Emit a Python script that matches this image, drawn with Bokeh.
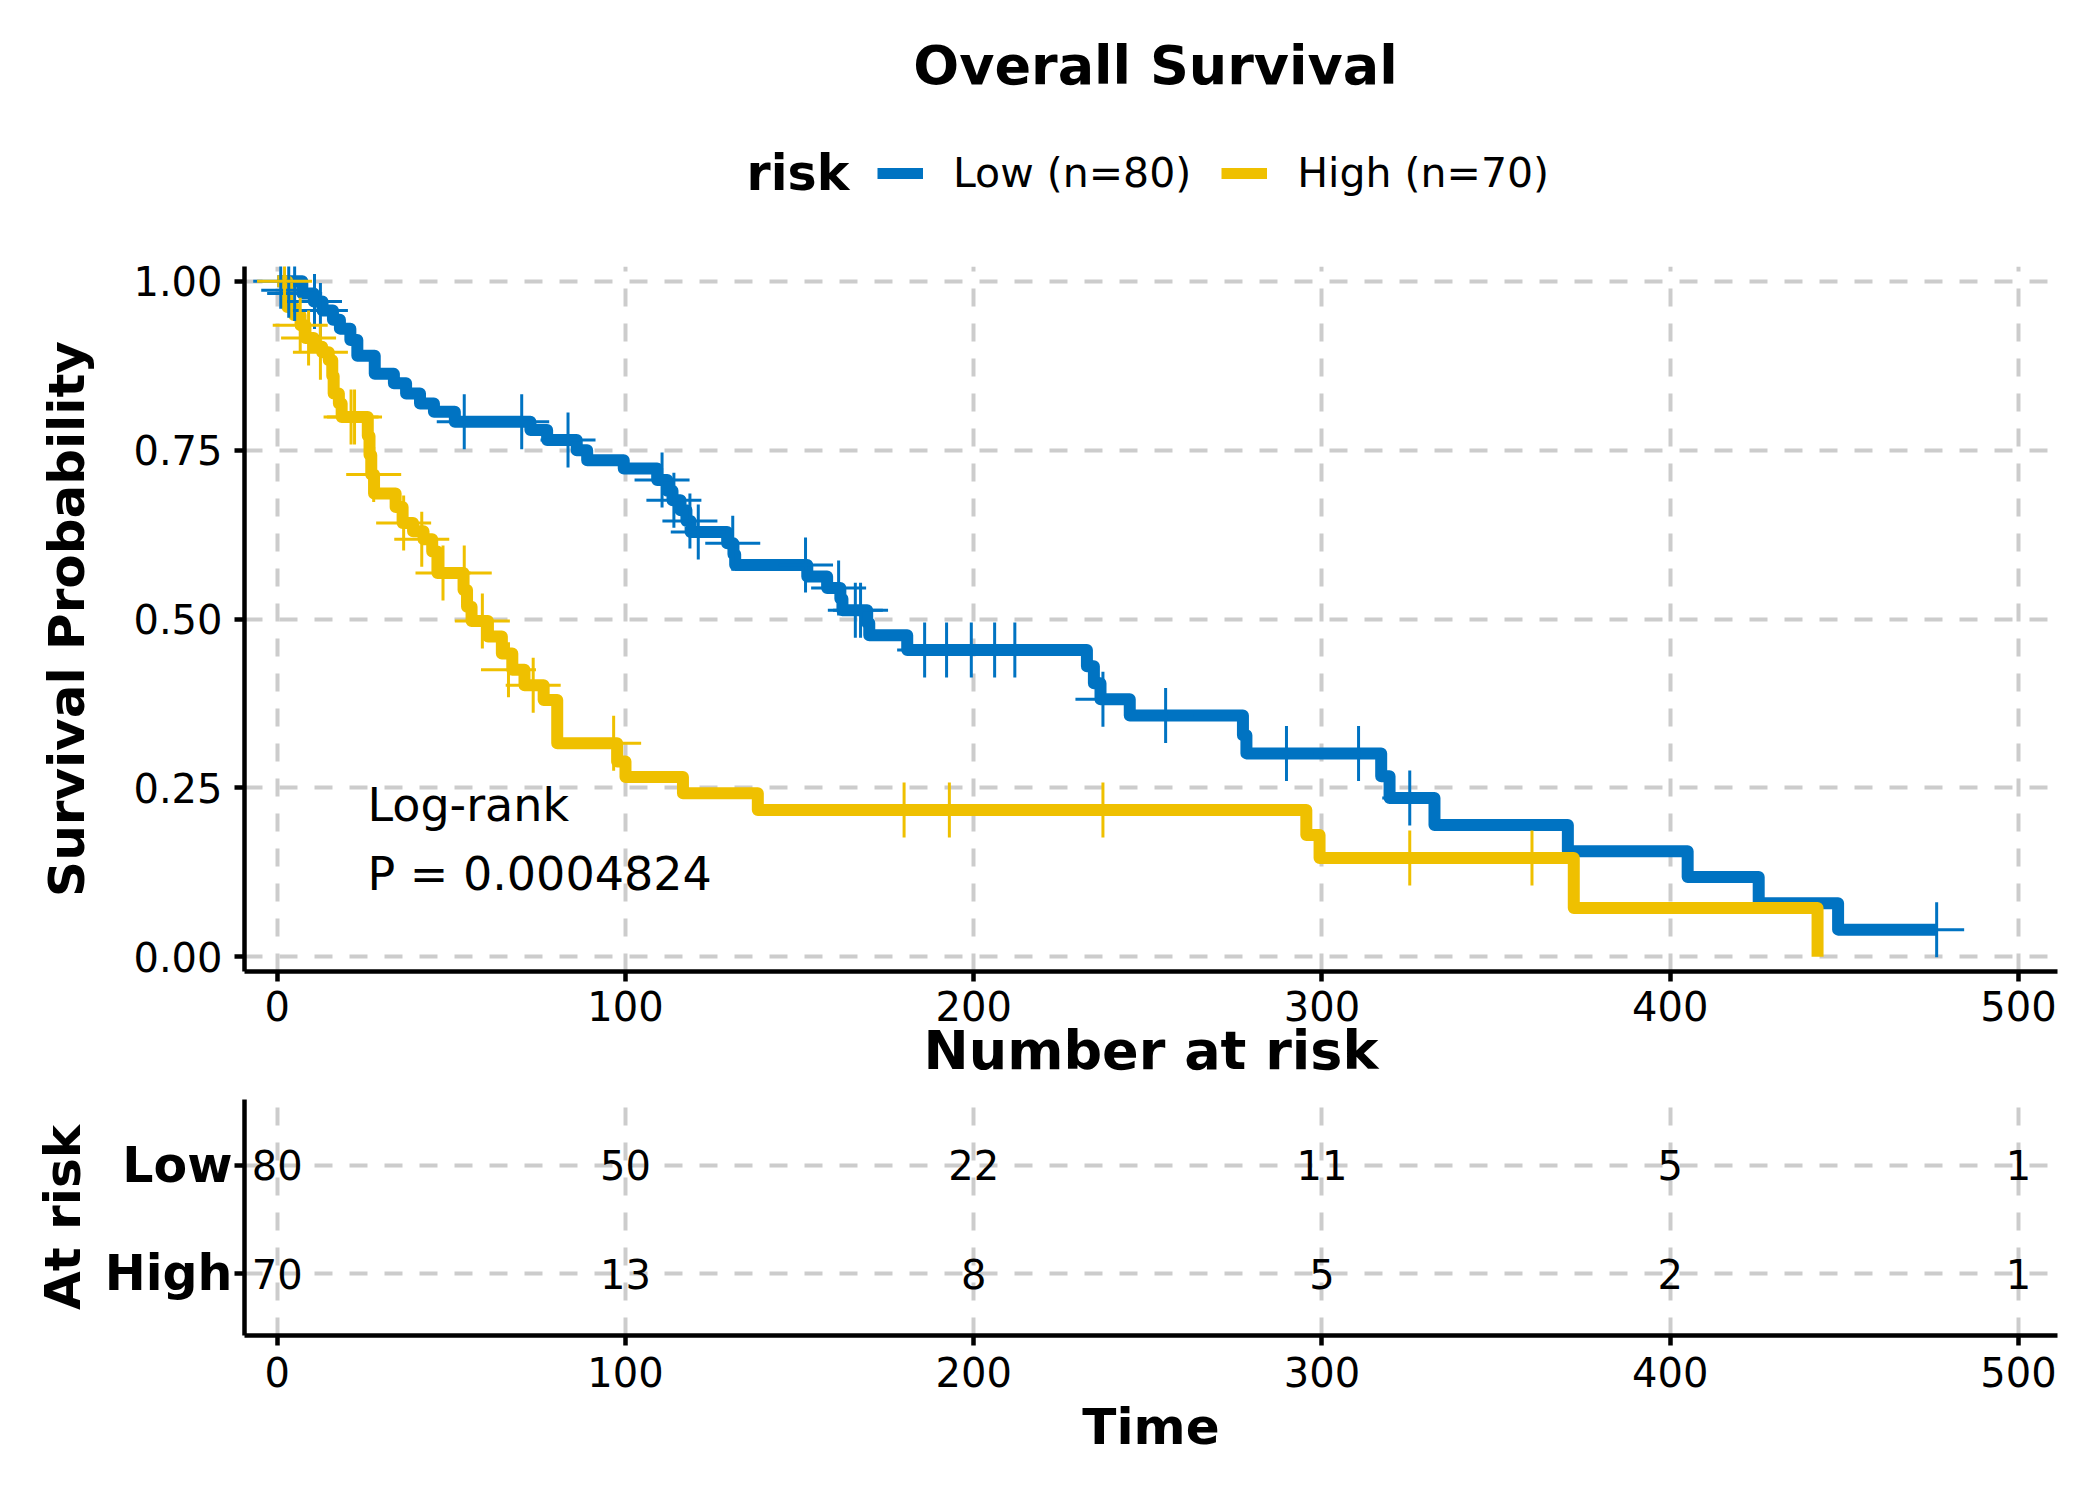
from bokeh.plotting import figure
from bokeh.layouts import column
from bokeh.models import (Range1d, FixedTicker, PrintfTickFormatter, Legend,
                          LegendItem, Label, ColumnDataSource)
from bokeh.embed import file_html
from bokeh.resources import INLINE
from bokeh.core.properties import value

FONT = "DejaVu Sans"
BLUE = "#0073C2"
YELLOW = "#EFC000"
GRID = "#cccccc"

# ---------------- data ----------------
low_time = [0, 7.2, 10.5, 13, 16, 18, 21, 23, 28, 33.5, 37, 41, 45, 51, 72.7, 77.5, 86, 89, 99.5, 109.1,
            112, 113.5, 115.8, 117.5, 118.7, 129.2, 131, 131.5, 152.2, 157.9, 161.7, 162.3, 169.4, 170,
            180.9, 232.5, 234.5, 236.4, 244.8, 277.3, 278.3, 317.0, 319.4, 332.3, 370.6, 405, 425.4,
            448.2, 476.5]
low_surv = [1.0, 0.982, 0.970, 0.957, 0.943, 0.930, 0.913, 0.890, 0.863, 0.849, 0.834, 0.819, 0.807,
            0.792, 0.780, 0.765, 0.750, 0.735, 0.723, 0.706, 0.690, 0.676, 0.661, 0.645, 0.629, 0.612,
            0.596, 0.580, 0.563, 0.546, 0.530, 0.513, 0.494, 0.476, 0.454, 0.430, 0.405, 0.381, 0.357,
            0.328, 0.301, 0.267, 0.235, 0.195, 0.156, 0.118, 0.079, 0.040, 0.040]

high_time = [0, 2.9, 4.8, 6.7, 8.1, 10.5, 12.9, 14.8, 15.8, 16.2, 17.7, 18.5, 26, 26.5, 27, 27.8, 34,
             36, 39, 42, 44.5, 46, 53.5, 54.5, 55.8, 60.5, 64.5, 67.5, 71, 76.5, 80.4, 97.6, 100,
             116.5, 138, 295.5, 299.3, 372.3, 442.3]
high_surv = [1.0, 0.962, 0.950, 0.935, 0.916, 0.903, 0.895, 0.883, 0.860, 0.834, 0.819, 0.799, 0.771,
             0.743, 0.714, 0.686, 0.666, 0.642, 0.630, 0.618, 0.600, 0.568, 0.543, 0.518, 0.497, 0.474,
             0.449, 0.425, 0.402, 0.380, 0.316, 0.289, 0.266, 0.242, 0.217, 0.180, 0.146, 0.072, 0.0]

low_cens_time = [1, 3.3, 5, 10.7, 12.4, 53.7, 70.2, 83.5, 110.5, 113.9, 118.5, 120.9, 130.8, 151.7,
                 161.2, 166, 167.5, 185.9, 192.2, 199.3, 206, 211.8, 237.1, 255.1, 289.8, 310.5,
                 325.2, 476.5]
low_cens_surv = [1.0, 0.987, 0.982, 0.970, 0.957, 0.792, 0.792, 0.765, 0.706, 0.676, 0.645, 0.629,
                 0.612, 0.580, 0.546, 0.513, 0.513, 0.454, 0.454, 0.454, 0.454, 0.454, 0.381, 0.357,
                 0.301, 0.301, 0.235, 0.040]

high_cens_time = [2.1, 6.6, 9.0, 12.4, 21.2, 22.2, 27.7, 36.3, 41.5, 47.6, 53.7, 58.9, 66.4, 73.5,
                  96.6, 180, 193, 237.1, 325.2, 360.3]
high_cens_surv = [1.0, 0.935, 0.916, 0.895, 0.799, 0.799, 0.714, 0.642, 0.618, 0.568, 0.568, 0.497,
                  0.425, 0.402, 0.316, 0.217, 0.217, 0.217, 0.146, 0.146]

groups = ["Low", "High"]
legend_title = "risk"
legend_labels = ["Low (n=80)", "High (n=70)"]
risk_times = [0, 100, 200, 300, 400, 500]
risk_low = [80, 50, 22, 11, 5, 1]
risk_high = [70, 13, 8, 5, 2, 1]
x_ticks = [0, 100, 200, 300, 400, 500]
y_ticks = [0, 0.25, 0.5, 0.75, 1.0]
pval_lines = ["Log-rank", "P = 0.0004824"]
pval_x = [25.9, 25.9]
pval_y = [0.224, 0.122]

W = 2084
FRAME_L = 244
FRAME_R = 27


def style_axis(ax):
    ax.axis_line_width = 4.5
    ax.axis_line_color = "black"
    ax.major_tick_line_width = 4.5
    ax.major_tick_line_color = "black"
    ax.major_tick_out = 10
    ax.major_tick_in = 0
    ax.minor_tick_out = 0
    ax.minor_tick_in = 0
    ax.major_label_text_font = FONT
    ax.major_label_text_font_size = "40px"
    ax.major_label_text_color = "black"
    ax.axis_label_text_font = FONT
    ax.axis_label_text_font_style = "bold"
    ax.axis_label_text_color = "black"


def style_grid(g):
    g.grid_line_color = GRID
    g.grid_line_width = 4
    g.grid_line_dash = "18 17"


# ---------------- header: title + legend ----------------
HH = 238
header = figure(width=W, height=HH, x_range=Range1d(FRAME_L, W - FRAME_R), y_range=Range1d(0, HH),
                output_backend="svg", toolbar_location=None,
                min_border_left=FRAME_L, min_border_right=FRAME_R, min_border_top=0,
                min_border_bottom=0, x_axis_type=None, y_axis_type=None)
header.outline_line_color = None
header.background_fill_color = "white"
header.border_fill_color = "white"
header.xgrid.visible = False
header.ygrid.visible = False

header.add_layout(Label(x=1155, y=HH - 65, text="Overall Survival", text_font=FONT,
                        text_font_size="54px", text_font_style="bold", text_color="black",
                        text_align="center", text_baseline="middle"))
header.add_layout(Label(x=746, y=HH - 173, text=legend_title, text_font=FONT,
                        text_font_size="49px", text_font_style="bold", text_color="black",
                        text_align="left", text_baseline="middle"))
# legend keys (same series, hidden in this panel; only their legend glyphs are shown)
key_low = header.line(x=low_time, y=low_surv, line_color=BLUE, line_width=11, visible=False)
key_high = header.line(x=high_time, y=high_surv, line_color=YELLOW, line_width=11, visible=False)
legend = Legend(items=[LegendItem(label=legend_labels[0], renderers=[key_low]),
                       LegendItem(label=legend_labels[1], renderers=[key_high])],
                orientation="horizontal", location=(877 - FRAME_L, HH - 197),
                glyph_width=46, glyph_height=48, label_height=48,
                label_text_font=FONT, label_text_font_size="41px", label_text_color="black",
                label_standoff=30, spacing=30, padding=0, margin=0,
                inactive_fill_alpha=0,
                border_line_color=None, background_fill_alpha=0)
header.add_layout(legend)

# ---------------- main plot ----------------
x_range = Range1d(-9.4, 511.2)
p = figure(width=W, height=857, x_range=x_range, y_range=Range1d(-0.022, 1.022),
           output_backend="svg", toolbar_location=None,
           min_border_left=FRAME_L, min_border_right=FRAME_R, min_border_top=28,
           min_border_bottom=124)
p.outline_line_color = None
p.background_fill_color = "white"
p.border_fill_color = "white"

for ax in (p.xaxis[0], p.yaxis[0]):
    style_axis(ax)
p.xaxis.ticker = FixedTicker(ticks=x_ticks)
p.yaxis.ticker = FixedTicker(ticks=y_ticks)
p.yaxis.formatter = PrintfTickFormatter(format="%.2f")
p.xaxis.major_label_standoff = 9
p.yaxis.major_label_standoff = 12
p.xaxis.axis_label = "Number at risk"
p.xaxis.axis_label_text_font_size = "54px"
p.xaxis.axis_label_standoff = -5
p.yaxis.axis_label = "Survival Probability"
p.yaxis.axis_label_text_font_size = "50px"
p.yaxis.axis_label_standoff = 34
style_grid(p.xgrid[0])
style_grid(p.ygrid[0])

p.step(low_time, low_surv, mode="after", line_color=BLUE, line_width=12, line_join="round")
p.step(high_time, high_surv, mode="after", line_color=YELLOW, line_width=12, line_join="round")
p.scatter(low_cens_time, low_cens_surv, marker="cross", size=55, line_color=BLUE, line_width=3)
p.scatter(high_cens_time, high_cens_surv, marker="cross", size=55, line_color=YELLOW, line_width=3)

p.text(x=pval_x, y=pval_y, text=pval_lines, text_font=value(FONT), text_font_size="46px",
       text_baseline="middle", text_align="left", text_color="black")

# ---------------- risk table ----------------
p2 = figure(width=W, height=390, x_range=x_range, y_range=Range1d(0.426, 2.611),
            output_backend="svg", toolbar_location=None,
            min_border_left=FRAME_L, min_border_right=FRAME_R, min_border_top=4,
            min_border_bottom=150)
p2.outline_line_color = None
p2.background_fill_color = "white"
p2.border_fill_color = "white"
for ax in (p2.xaxis[0], p2.yaxis[0]):
    style_axis(ax)
p2.xaxis.ticker = FixedTicker(ticks=x_ticks)
p2.yaxis.ticker = FixedTicker(ticks=[1, 2])
p2.yaxis.major_label_overrides = {1: groups[1], 2: groups[0]}
p2.yaxis.major_label_text_font_style = "bold"
p2.yaxis.major_label_text_font_size = "49px"
p2.yaxis.major_label_standoff = 2
p2.xaxis.major_label_standoff = 11
p2.xaxis.axis_label = "Time"
p2.xaxis.axis_label_text_font_size = "50px"
p2.xaxis.axis_label_standoff = 8
p2.yaxis.axis_label = "At risk"
p2.yaxis.axis_label_text_font_size = "50px"
p2.yaxis.axis_label_standoff = 10
style_grid(p2.xgrid[0])
style_grid(p2.ygrid[0])

risk_src = ColumnDataSource(dict(
    x=risk_times + risk_times,
    y=[2] * len(risk_low) + [1] * len(risk_high),
    t=[str(v) for v in risk_low] + [str(v) for v in risk_high],
))
p2.text(x="x", y="y", text="t", source=risk_src, text_font=value(FONT), text_font_size="40px",
        text_align="center", text_baseline="middle", text_color="black")

layout = column(header, p, p2, spacing=0)
open("out.html", "w").write(file_html(layout, INLINE))
